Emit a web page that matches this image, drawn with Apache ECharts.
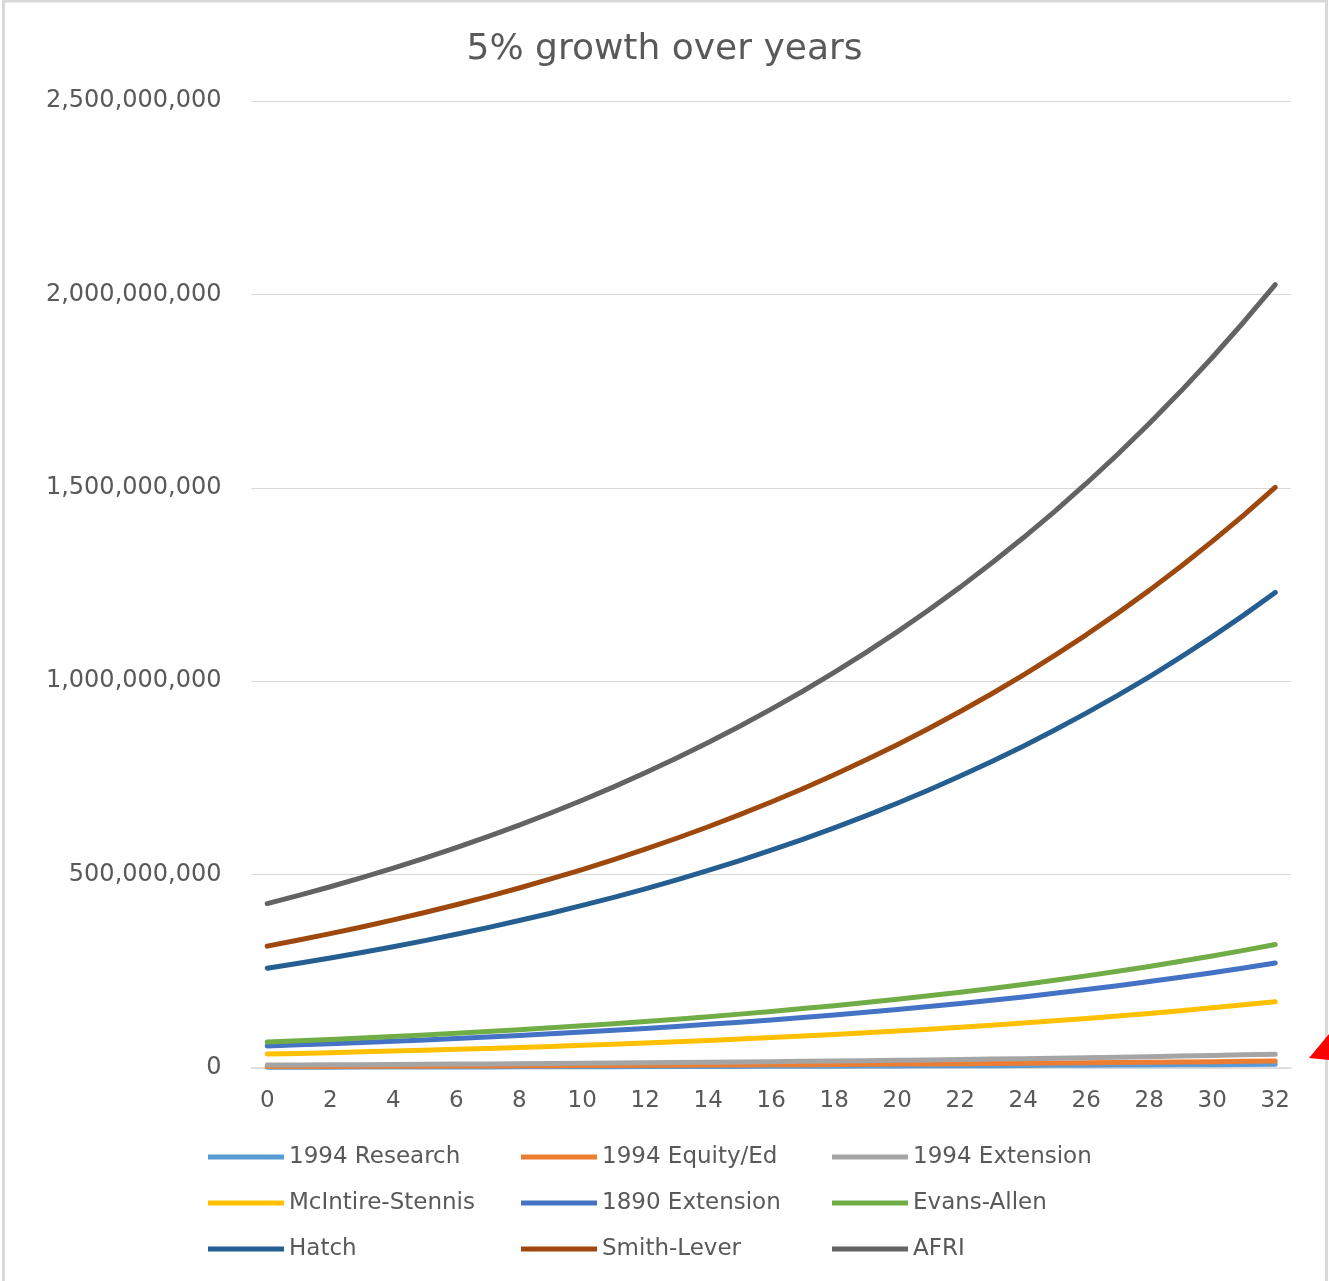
<!DOCTYPE html>
<html>
<head>
<meta charset="utf-8">
<script src="https://cdn.jsdelivr.net/npm/echarts@6/dist/echarts.min.js"></script>
<style>
html,body{margin:0;padding:0;background:#fff;}
#chart{width:1329px;height:1281px;}
</style>
</head>
<body>
<div id="chart"></div>
<script>
// x categories (years)
const years = ['0','1','2','3','4','5','6','7','8','9','10','11','12','13','14','15','16','17','18','19','20','21','22','23','24','25','26','27','28','29','30','31','32'];

// values in millions of dollars
const research1994 = [2.0,2.1,2.2,2.3,2.4,2.6,2.7,2.8,3.0,3.1,3.3,3.4,3.6,3.8,4.0,4.2,4.4,4.6,4.8,5.1,5.3,5.6,5.9,6.1,6.5,6.8,7.1,7.5,7.8,8.2,8.6,9.1,9.5];
const equityEd1994 = [3.8,4.0,4.2,4.4,4.6,4.8,5.1,5.3,5.6,5.9,6.2,6.5,6.8,7.2,7.5,7.9,8.3,8.7,9.1,9.6,10.1,10.6,11.1,11.7,12.3,12.9,13.5,14.2,14.9,15.6,16.4,17.2,18.1];
const extension1994 = [7.5,7.9,8.3,8.7,9.1,9.6,10.1,10.6,11.1,11.6,12.2,12.8,13.5,14.1,14.8,15.6,16.4,17.2,18.0,19.0,19.9,20.9,21.9,23.0,24.2,25.4,26.7,28.0,29.4,30.9,32.4,34.0,35.7];
const mcintireStennis = [36.0,37.8,39.7,41.7,43.8,45.9,48.2,50.7,53.2,55.8,58.6,61.6,64.7,67.9,71.3,74.8,78.6,82.5,86.6,91.0,95.5,100.3,105.3,110.6,116.1,121.9,128.0,134.4,141.1,148.2,155.6,163.4,171.5];
const extension1890 = [57.0,59.9,62.8,66.0,69.3,72.7,76.4,80.2,84.2,88.4,92.8,97.5,102.4,107.5,112.9,118.5,124.4,130.6,137.2,144.0,151.2,158.8,166.7,175.1,183.8,193.0,202.7,212.8,223.4,234.6,246.4,258.7,271.6];
const evansAllen = [67.0,70.4,73.9,77.6,81.4,85.5,89.8,94.3,99.0,103.9,109.1,114.6,120.3,126.3,132.7,139.3,146.3,153.6,161.2,169.3,177.8,186.7,196.0,205.8,216.1,226.9,238.2,250.1,262.6,275.8,289.6,304.0,319.3];
const hatch = [258.0,270.9,284.4,298.7,313.6,329.3,345.7,363.0,381.2,400.2,420.3,441.3,463.3,486.5,510.8,536.4,563.2,591.3,620.9,652.0,684.5,718.8,754.7,792.5,832.1,873.7,917.4,963.2,1011.4,1062.0,1115.1,1170.8,1229.4];
const smithLever = [315.0,330.8,347.3,364.7,382.9,402.0,422.1,443.2,465.4,488.7,513.1,538.8,565.7,594.0,623.7,654.9,687.6,722.0,758.1,796.0,835.8,877.6,921.5,967.5,1015.9,1066.7,1120.0,1176.1,1234.8,1296.6,1361.4,1429.5,1501.0];
const afri = [425.0,446.3,468.6,492.0,516.6,542.4,569.5,598.0,627.9,659.3,692.3,726.9,763.2,801.4,841.5,883.5,927.7,974.1,1022.8,1074.0,1127.7,1184.0,1243.2,1305.4,1370.7,1439.2,1511.2,1586.7,1666.1,1749.3,1836.8,1928.7,2025.1];

const seriesNames = ['1994 Research','1994 Equity/Ed','1994 Extension','McIntire-Stennis','1890 Extension','Evans-Allen','Hatch','Smith-Lever','AFRI'];
const seriesValues = [research1994, equityEd1994, extension1994, mcintireStennis, extension1890, evansAllen, hatch, smithLever, afri];
const seriesColors = ['#5B9BD5','#ED7D31','#A5A5A5','#FFC000','#4472C4','#70AD47','#255E91','#9E480E','#636363'];

const FONT = 'DejaVu Sans';
const TXT = '#595959';

const chart = echarts.init(document.getElementById('chart'));

const series = seriesNames.map((name, i) => ({
  name: name,
  type: 'line',
  symbol: 'none',
  smooth: false,
  data: seriesValues[i].map(v => v * 1e6),
  lineStyle: { color: seriesColors[i], width: 5, cap: 'round', join: 'round' },
  itemStyle: { color: seriesColors[i] },
  emphasis: { disabled: true },
  z: 2 + i
}));

function legendCol(names, left) {
  return {
    orient: 'vertical',
    left: left,
    top: 1145,
    padding: 0,
    itemWidth: 76,
    itemHeight: 24,
    itemGap: 22,
    data: names,
    icon: 'path://M0,0 L76,0 L76,5 L0,5 Z',
    textStyle: { fontFamily: FONT, fontSize: 23, color: TXT, lineHeight: 24 },
    selectedMode: false
  };
}

chart.setOption({
  animation: false,
  backgroundColor: '#ffffff',
  title: {
    text: '5% growth over years',
    left: 'center',
    top: 27,
    textStyle: { fontFamily: FONT, fontSize: 36, fontWeight: 'normal', color: TXT }
  },
  legend: [
    legendCol(['1994 Research','McIntire-Stennis','Hatch'], 208),
    legendCol(['1994 Equity/Ed','1890 Extension','Smith-Lever'], 521),
    legendCol(['1994 Extension','Evans-Allen','AFRI'], 832)
  ],
  grid: { left: 251.5, right: 38, top: 101, bottom: 213, containLabel: false },
  xAxis: {
    type: 'category',
    data: years,
    boundaryGap: true,
    axisLine: { show: true, lineStyle: { color: '#D9D9D9', width: 1.5 } },
    axisTick: { show: false },
    axisLabel: { interval: 1, fontFamily: FONT, fontSize: 23, color: TXT, margin: 22 }
  },
  yAxis: {
    type: 'value',
    min: 0,
    max: 2500000000,
    interval: 500000000,
    axisLine: { show: false },
    axisTick: { show: false },
    splitLine: { lineStyle: { color: '#D9D9D9', width: 1.2 } },
    axisLabel: {
      fontFamily: FONT, fontSize: 24, color: TXT, margin: 30,
      formatter: v => v.toLocaleString('en-US')
    }
  },
  series: series,
  graphic: [
    { type: 'rect', shape: { x: 3.5, y: 1, width: 1323, height: 1290 }, style: { fill: 'none', stroke: '#D9D9D9', lineWidth: 3 }, silent: true, z: 100 },
    { type: 'polygon', shape: { points: [[1309, 1058], [1329, 1034], [1329, 1060]] }, style: { fill: '#FF0000' }, silent: true, z: 101 }
  ]
});
</script>
</body>
</html>
